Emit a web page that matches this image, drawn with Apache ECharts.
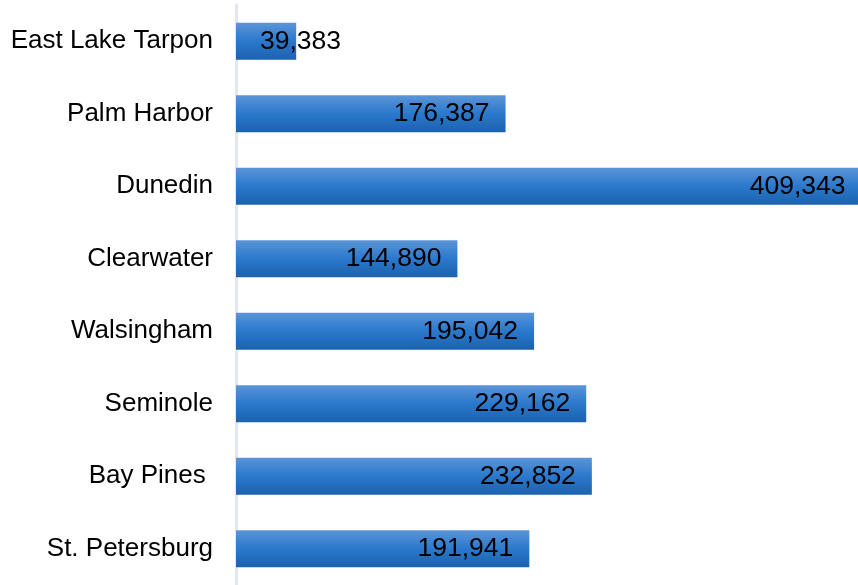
<!DOCTYPE html>
<html><head><meta charset="utf-8">
<script src="https://cdn.jsdelivr.net/npm/echarts@6/dist/echarts.min.js"></script>
<style>html,body{margin:0;padding:0;background:#fff}#c{width:858px;height:585px}</style>
</head><body><div id="c"></div>
<script>
const categories = ["East Lake Tarpon","Palm Harbor","Dunedin","Clearwater","Walsingham","Seminole","Bay Pines ","St. Petersburg"];
const values = [39383,176387,409343,144890,195042,229162,232852,191941];

const chart = echarts.init(document.getElementById('c'), null, {renderer:'canvas'});
const grad = new echarts.graphic.LinearGradient(0,0,0,1,[
  {offset:0,color:'#5b95d8'},{offset:0.5,color:'#2b78cc'},{offset:1,color:'#1c62ae'}]);
const data = values.map((v,i)=>{
  const d = {value:v};
  if (v < 60000) d.label = {position:'insideLeft', distance:24};
  return d;
});
chart.setOption({
  animation:false,
  grid:{left:236,right:0,top:5,bottom:0,containLabel:false},
  xAxis:{type:'value',min:0,max:407000,show:false},
  yAxis:{type:'category',inverse:true,data:categories,
    axisLine:{show:true,lineStyle:{color:'#e2e7ee',width:3}},
    axisTick:{show:false},
    axisLabel:{color:'#000',fontSize:26,fontFamily:'Liberation Sans, Arial, sans-serif',margin:23}},
  series:[{type:'bar',data:data,barWidth:37,clip:false,
    itemStyle:{color:grad},
    label:{show:true,position:'insideRight',distance:16,color:'#000',fontSize:26.5,
      fontFamily:'Liberation Sans, Arial, sans-serif',
      formatter:p=>p.value.toLocaleString('en-US')}}]
});
</script></body></html>
